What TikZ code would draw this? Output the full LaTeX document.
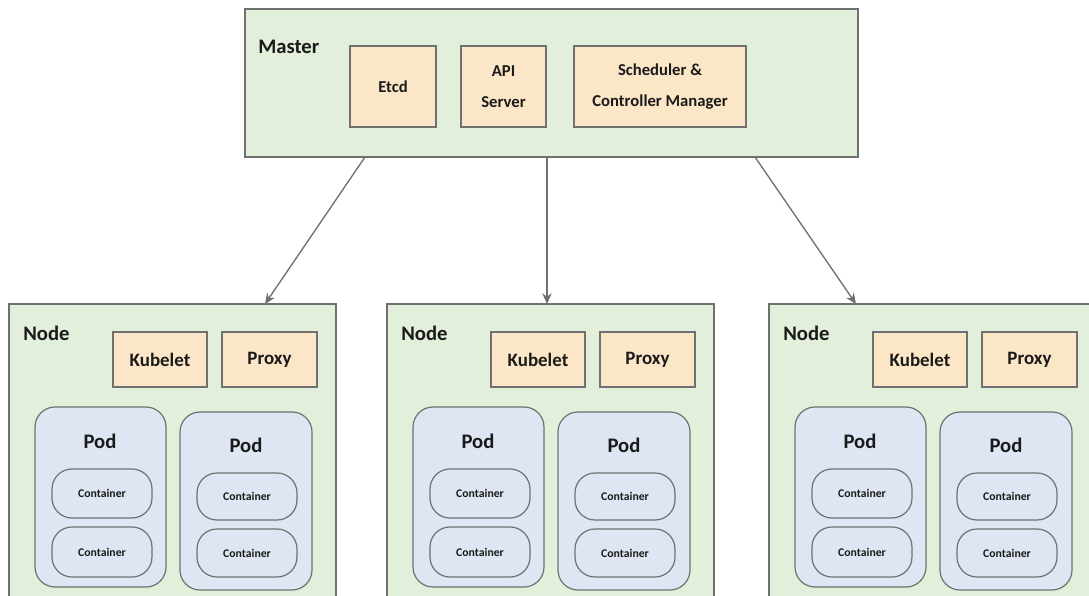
\documentclass[tikz,border=0pt]{standalone}
\usepackage{fontspec}
\setmainfont{Carlito}
\usetikzlibrary{fit,arrows.meta}
\definecolor{grn}{HTML}{E2EFDA}
\definecolor{peach}{HTML}{FCE6C8}
\definecolor{pblue}{HTML}{DDE6F2}
\definecolor{edge}{HTML}{707070}
\definecolor{txt}{HTML}{1A1A1A}
\begin{document}
\begin{tikzpicture}[x=0.75pt,y=-0.75pt,
  frame/.style={draw=edge, line width=0.9pt, fill=grn, inner sep=0pt},
  comp/.style={draw=edge, line width=0.9pt, fill=peach, inner sep=0pt, align=center, text=txt, font=\bfseries\fontsize{12.5}{16}\selectfont},
  lbl/.style={draw=none, fill=none},
  nodecomp/.style={comp, font=\bfseries\fontsize{14.2}{17}\selectfont},
  pod/.style={draw=edge, line width=0.9pt, fill=pblue, inner sep=0pt, rounded corners=15pt},
  ctr/.style={draw=edge, line width=0.9pt, fill=pblue, inner sep=0pt, rounded corners=15pt, text=txt, font=\bfseries\fontsize{8.8}{10}\selectfont},
  title/.style={inner sep=0pt, anchor=base west, text=txt, font=\bfseries\fontsize{15.5}{18}\selectfont},
  podtitle/.style={inner sep=0pt, anchor=base, text=txt, font=\bfseries\fontsize{15.5}{18}\selectfont},
  arr/.style={draw=edge, line width=1pt, -{Stealth[length=8pt,width=7pt]}}
]
\useasboundingbox (0,0) rectangle (1089,596);
\clip (0,0) rectangle (1089,596);
\fill[white] (0,0) rectangle (1089,596);

% Master
\node[frame, fit={(245,9) (858,157)}] (master) {};
\node[title] (mlabel) at (258,53) {Master};
\node[comp, fit={(350,46) (436,127)}] (etcd) {};
\node[comp, lbl] at (etcd.center) (etcdt) {Etcd};
\node[comp, fit={(461,46) (546,127)}] (api) {};
\node[comp, lbl] at (api.center) (apit) {API\\[7.5pt]Server};
\node[comp, fit={(574,46) (746,127)}] (sched) {};
\node[comp, lbl] at (sched.center) (schedt) {Scheduler \&\\[7.5pt]Controller Manager};

% Worker nodes
\foreach \i/\dx in {1/0,2/378,3/760} {
  \begin{scope}[xshift=\dx*0.75pt]
    \node[frame, fit={(9,304) (336,602)}] (node\i) {};
    \node[title] (nlabel\i) at (23,340) {Node};
    \node[nodecomp, fit={(113,332) (207,387)}] (kub\i) {};
    \node[nodecomp, lbl] at (kub\i.center) (kubt\i) {Kubelet};
    \node[nodecomp, fit={(222,332) (317,387)}] (prx\i) {};
    \node[nodecomp, lbl] at (prx\i.center) (prxt\i) {Proxy};
    % pod a
    \node[pod, fit={(35,407) (166,587)}] (poda\i) {};
    \node[podtitle] (podat\i) at (100,448) {Pod};
    \node[ctr, fit={(52,469) (152,518)}] (ca\i) {};
    \node[ctr, lbl] at (ca\i.center) (cat\i) {Container};
    \node[ctr, fit={(52,527) (152,577)}] (cb\i) {};
    \node[ctr, lbl] at (cb\i.center) (cbt\i) {Container};
    % pod b
    \node[pod, fit={(180,412) (312,590)}] (podb\i) {};
    \node[podtitle] (podbt\i) at (246,452) {Pod};
    \node[ctr, fit={(197,473) (297,520)}] (cc\i) {};
    \node[ctr, lbl] at (cc\i.center) (cct\i) {Container};
    \node[ctr, fit={(197,529) (297,577)}] (cd\i) {};
    \node[ctr, lbl] at (cd\i.center) (cdt\i) {Container};
  \end{scope}
}

% Arrows
\coordinate (m1) at (365,157);
\coordinate (m2) at (547,157);
\coordinate (m3) at (755,157);
\coordinate (t1) at (265,304);
\coordinate (t2) at (547,304);
\coordinate (t3) at (856,304);
\draw[arr] (m1) -- (t1);
\draw[arr] (m2) -- (t2);
\draw[arr] (m3) -- (t3);
\end{tikzpicture}
\end{document}
